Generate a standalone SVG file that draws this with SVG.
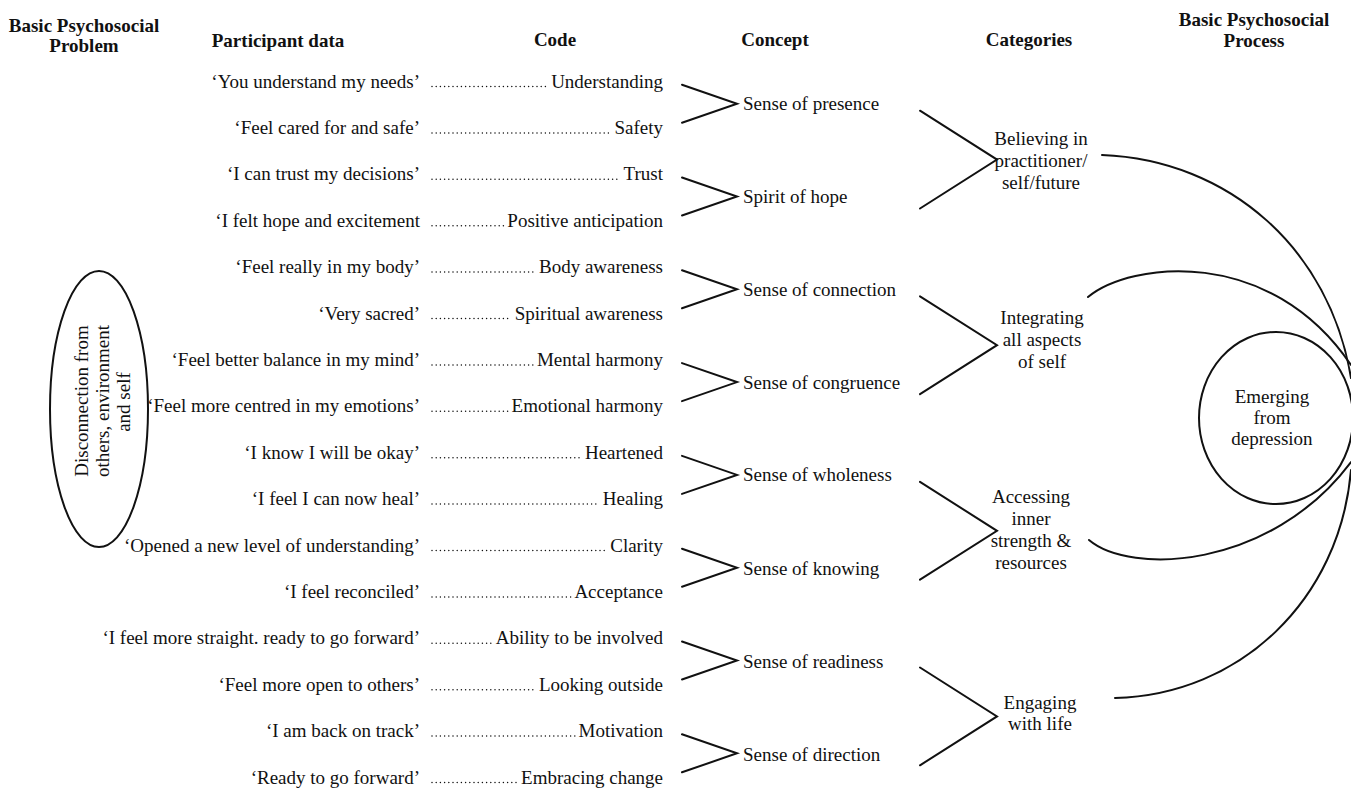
<svg xmlns="http://www.w3.org/2000/svg" width="1351" height="789" viewBox="0 0 1351 789">
<style>
text{font-family:"Liberation Serif","Times New Roman",serif;font-size:19px;fill:#111}
.h{font-weight:bold;font-size:19px;text-anchor:middle}
.q{text-anchor:end}
.c{text-anchor:end}
.m{text-anchor:middle}
.ln{fill:none;stroke:#111;stroke-width:2;stroke-linecap:round;stroke-linejoin:miter}
.dots{fill:none;stroke:#111;stroke-width:1.5;stroke-linecap:round;stroke-dasharray:0 4.2}
.shape{fill:none;stroke:#111;stroke-width:2}
</style>
<rect width="1351" height="789" fill="#fff"/>
<g id="headers">
<text class="h" x="84" y="32">Basic Psychosocial</text>
<text class="h" x="84" y="52">Problem</text>
<text class="h" x="278" y="47">Participant data</text>
<text class="h" x="555" y="46">Code</text>
<text class="h" x="775" y="46">Concept</text>
<text class="h" x="1029" y="46">Categories</text>
<text class="h" x="1254" y="26">Basic Psychosocial</text>
<text class="h" x="1254" y="47">Process</text>
</g>
<g id="problem">
<ellipse class="shape" cx="99" cy="409" rx="49" ry="138"/>
<text class="m" transform="translate(88,401) rotate(-90)">Disconnection from</text>
<text class="m" transform="translate(109,401) rotate(-90)">others, environment</text>
<text class="m" transform="translate(130,402) rotate(-90)">and self</text>
</g>
<g id="rows">
<g id="row1"><text class="q" x="420" y="87.5">‘You understand my needs’</text><path class="dots" d="M432,86.5H547"/><text class="c" x="663" y="87.5">Understanding</text></g>
<g id="row2"><text class="q" x="420" y="133.9">‘Feel cared for and safe’</text><path class="dots" d="M432,132.9H611"/><text class="c" x="663" y="133.9">Safety</text></g>
<g id="row3"><text class="q" x="420" y="180.3">‘I can trust my decisions’</text><path class="dots" d="M432,179.3H619"/><text class="c" x="663" y="180.3">Trust</text></g>
<g id="row4"><text class="q" x="420" y="226.7">‘I felt hope and excitement</text><path class="dots" d="M432,225.7H504"/><text class="c" x="663" y="226.7">Positive anticipation</text></g>
<g id="row5"><text class="q" x="420" y="273.1">‘Feel really in my body’</text><path class="dots" d="M432,272.1H535"/><text class="c" x="663" y="273.1">Body awareness</text></g>
<g id="row6"><text class="q" x="420" y="319.5">‘Very sacred’</text><path class="dots" d="M432,318.5H511"/><text class="c" x="663" y="319.5">Spiritual awareness</text></g>
<g id="row7"><text class="q" x="420" y="365.9">‘Feel better balance in my mind’</text><path class="dots" d="M432,364.9H533"/><text class="c" x="663" y="365.9">Mental harmony</text></g>
<g id="row8"><text class="q" x="420" y="412.3">‘Feel more centred in my emotions’</text><path class="dots" d="M432,411.3H508"/><text class="c" x="663" y="412.3">Emotional harmony</text></g>
<g id="row9"><text class="q" x="420" y="458.7">‘I know I will be okay’</text><path class="dots" d="M432,457.7H581"/><text class="c" x="663" y="458.7">Heartened</text></g>
<g id="row10"><text class="q" x="420" y="505.1">‘I feel I can now heal’</text><path class="dots" d="M432,504.1H599"/><text class="c" x="663" y="505.1">Healing</text></g>
<g id="row11"><text class="q" x="420" y="551.5">‘Opened a new level of understanding’</text><path class="dots" d="M432,550.5H607"/><text class="c" x="663" y="551.5">Clarity</text></g>
<g id="row12"><text class="q" x="420" y="597.9">‘I feel reconciled’</text><path class="dots" d="M432,596.9H571"/><text class="c" x="663" y="597.9">Acceptance</text></g>
<g id="row13"><text class="q" x="420" y="644.3">‘I feel more straight. ready to go forward’</text><path class="dots" d="M432,643.3H492"/><text class="c" x="663" y="644.3">Ability to be involved</text></g>
<g id="row14"><text class="q" x="420" y="690.7">‘Feel more open to others’</text><path class="dots" d="M432,689.7H535"/><text class="c" x="663" y="690.7">Looking outside</text></g>
<g id="row15"><text class="q" x="420" y="737.1">‘I am back on track’</text><path class="dots" d="M432,736.1H575"/><text class="c" x="663" y="737.1">Motivation</text></g>
<g id="row16"><text class="q" x="420" y="783.5">‘Ready to go forward’</text><path class="dots" d="M432,782.5H517"/><text class="c" x="663" y="783.5">Embracing change</text></g>
</g>
<g id="concepts">
<text id="c-presence" x="743" y="110.2">Sense of presence</text>
<text id="c-hope" x="743" y="203">Spirit of hope</text>
<text id="c-connection" x="743" y="295.8">Sense of connection</text>
<text id="c-congruence" x="743" y="388.6">Sense of congruence</text>
<text id="c-wholeness" x="743" y="481.4">Sense of wholeness</text>
<text id="c-knowing" x="743" y="575">Sense of knowing</text>
<text id="c-readiness" x="743" y="667.5">Sense of readiness</text>
<text id="c-direction" x="743" y="761">Sense of direction</text>
</g>
<g id="categories">
<g id="cat-believing"><text class="m" x="1041" y="145">Believing in</text><text class="m" x="1041" y="167">practitioner/</text><text class="m" x="1041" y="189">self/future</text></g>
<g id="cat-integrating"><text class="m" x="1042" y="324">Integrating</text><text class="m" x="1042" y="346">all aspects</text><text class="m" x="1042" y="368">of self</text></g>
<g id="cat-accessing"><text class="m" x="1031" y="503">Accessing</text><text class="m" x="1031" y="525">inner</text><text class="m" x="1031" y="547">strength &amp;</text><text class="m" x="1031" y="569">resources</text></g>
<g id="cat-engaging"><text class="m" x="1040" y="709">Engaging</text><text class="m" x="1040" y="730">with life</text></g>
</g>
<g id="process">
<ellipse class="shape" cx="1276" cy="418" rx="77" ry="86"/>
<text class="m" x="1272" y="403">Emerging</text>
<text class="m" x="1272" y="424">from</text>
<text class="m" x="1272" y="445">depression</text>
</g>
<g id="connectors">
<path class="ln" d="M682,84.7L737,103.7L682,122.7"/>
<path class="ln" d="M682,177.5L737,196.5L682,215.5"/>
<path class="ln" d="M682,270.3L737,289.3L682,308.3"/>
<path class="ln" d="M682,363.1L737,382.1L682,401.1"/>
<path class="ln" d="M682,455.9L737,474.9L682,493.9"/>
<path class="ln" d="M682,548.7L737,567.7L682,586.7"/>
<path class="ln" d="M682,641.5L737,660.5L682,679.5"/>
<path class="ln" d="M682,734.3L737,753.3L682,772.3"/>
<path class="ln" d="M920,110.7L997,159.6L920,208.5"/>
<path class="ln" d="M920,296.3L997,345.2L920,394.1"/>
<path class="ln" d="M920,481.9L997,530.8L920,579.7"/>
<path class="ln" d="M920,667.5L997,716.4L920,765.3"/>
<path class="ln" d="M1102,155C1230,160 1330,250 1351,378"/>
<path class="ln" d="M1088,297C1130,262 1270,245 1351,365"/>
<path class="ln" d="M1089,540C1130,575 1270,570 1351,462"/>
<path class="ln" d="M1115,698C1240,695 1340,600 1351,470"/>
</g>
</svg>
